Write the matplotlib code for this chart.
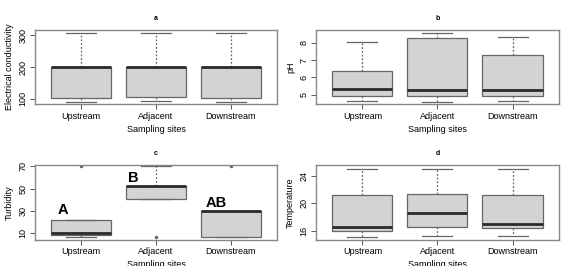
import numpy as np
import matplotlib
matplotlib.use("Agg")
import matplotlib.pyplot as plt

plt.rcParams['font.family'] = ['Liberation Sans', 'DejaVu Sans']

sites = ["Upstream", "Adjacent", "Downstream"]

# electrical conductivity
ec_whislo = [91, 93, 91]
ec_q1 = [104, 106, 104]
ec_med = [200, 200, 200]
ec_q3 = [201, 201, 201]
ec_whishi = [306, 307, 307]
ec_fliers = [[], [], []]

# pH
ph_whislo = [4.65, 4.60, 4.65]
ph_q1 = [4.95, 4.95, 4.95]
ph_med = [5.31, 5.26, 5.25]
ph_q3 = [6.38, 8.27, 7.29]
ph_whishi = [8.06, 8.58, 8.35]
ph_fliers = [[], [], []]

# turbidity
tb_whislo = [6.4, 40.8, 6.2]
tb_q1 = [8.2, 40.8, 6.6]
tb_med = [10.0, 52.0, 29.8]
tb_q3 = [21.5, 52.4, 30.2]
tb_whishi = [21.5, 70.0, 30.2]
tb_fliers = [[70.0], [6.0], [70.0]]

# temperature
tp_whislo = [15.0, 15.2, 15.2]
tp_q1 = [15.9, 16.5, 16.4]
tp_med = [16.5, 18.6, 17.0]
tp_q3 = [21.2, 21.4, 21.2]
tp_whishi = [25.1, 25.1, 25.1]
tp_fliers = [[], [], []]

letters = ["A", "B", "AB"]
letter_x = [0.69, 1.63, 2.66]
letter_y = [24.5, 53.0, 31.0]

panels = [
    ("a", "Electrical conductivity", ec_whislo, ec_q1, ec_med, ec_q3, ec_whishi, ec_fliers,
     (84, 316), [100, 200, 300]),
    ("b", "pH", ph_whislo, ph_q1, ph_med, ph_q3, ph_whishi, ph_fliers,
     (4.46, 8.73), [5, 6, 7, 8]),
    ("c", "Turbidity", tb_whislo, tb_q1, tb_med, tb_q3, tb_whishi, tb_fliers,
     (4.0, 71.0), [10, 30, 50, 70]),
    ("d", "Temperature", tp_whislo, tp_q1, tp_med, tp_q3, tp_whishi, tp_fliers,
     (14.68, 25.6), [16, 20, 24]),
]

positions = [
    [0.062, 0.609, 0.430, 0.278],
    [0.561, 0.609, 0.432, 0.278],
    [0.062, 0.099, 0.430, 0.280],
    [0.561, 0.099, 0.432, 0.280],
]

fig = plt.figure(figsize=(5.63, 2.66), dpi=100)
edge = '#666666'
for (tag, ylab, wlo, q1, med, q3, whi, fl, ylim, yt), pos in zip(panels, positions):
    ax = fig.add_axes(pos)
    stats = []
    for i in range(3):
        stats.append(dict(whislo=wlo[i], q1=q1[i], med=med[i], q3=q3[i],
                          whishi=whi[i], fliers=fl[i]))
    ax.bxp(stats, positions=[1, 2, 3], widths=0.8, capwidths=0.4,
           patch_artist=True, showfliers=True,
           boxprops=dict(facecolor='#d3d3d3', edgecolor=edge, linewidth=0.9),
           medianprops=dict(color='#2a2a2a', linewidth=2.0),
           whiskerprops=dict(color=edge, linewidth=0.9, linestyle=(0, (1.5, 1.5))),
           capprops=dict(color=edge, linewidth=0.9),
           flierprops=dict(marker='o', markersize=1.5, markerfacecolor=edge,
                           markeredgecolor=edge))
    ax.set_xlim(0.38, 3.62)
    ax.set_ylim(*ylim)
    ax.set_yticks(yt)
    ax.set_yticklabels([str(v) for v in yt], rotation=90, va='center')
    ax.set_xticks([1, 2, 3])
    ax.set_xticklabels(sites)
    ax.tick_params(labelsize=6.5, length=3.5, width=0.7, color='#555555', pad=2)
    for s in ax.spines.values():
        s.set_color('#888888')
        s.set_linewidth(1.0)
    ax.set_ylabel(ylab, fontsize=6.5, labelpad=3)
    ax.set_xlabel("Sampling sites", fontsize=6.5, labelpad=3)
    ax.set_title(tag, fontsize=5, fontweight='bold', pad=7)
    if tag == "c":
        for t, x, y in zip(letters, letter_x, letter_y):
            ax.text(x, y, t, fontsize=10.5, fontweight='bold', ha='left', va='bottom')

fig.savefig("out.png", dpi=100)
